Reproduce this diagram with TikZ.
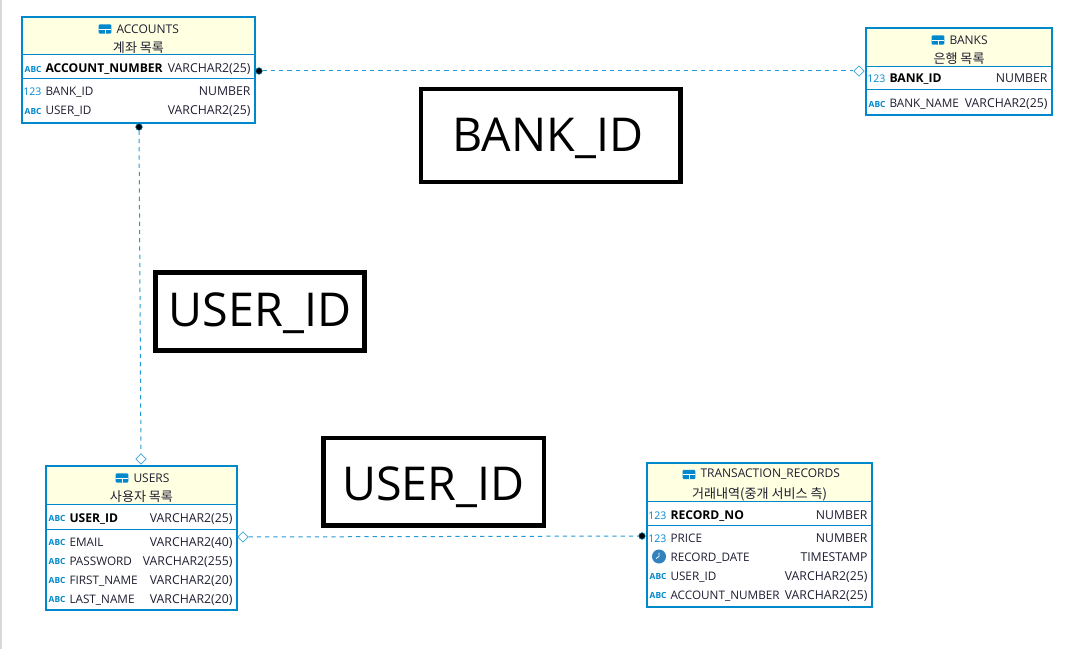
\documentclass[tikz,border=0pt]{standalone}
\usepackage{fontspec}
\setmainfont{Open Sans}
\newfontfamily\krfont{Noto Sans CJK KR}
\usetikzlibrary{shapes.geometric}
\definecolor{erblue}{RGB}{0,136,204}
\definecolor{erhead}{RGB}{255,255,225}
\definecolor{ertext}{RGB}{30,30,50}
\definecolor{erclock}{RGB}{50,130,190}
\tikzset{
	every picture/.style={line width=0.75pt},
	tablebox/.style={draw=erblue,line width=1.5pt,inner sep=0pt},
	headfill/.style={fill=erhead},
	sepline/.style={draw=erblue,line width=0.75pt},
	tabtitle/.style={text=ertext,font=\fontsize{9}{10}\selectfont,inner sep=0pt},
	tabnote/.style={text=ertext,yshift=-0.75pt,font=\krfont\fontsize{9.8}{11}\selectfont,inner sep=0pt},
	colname/.style={anchor=base west,yshift=-0.75pt,text=ertext,font=\fontsize{8.8}{10}\selectfont,inner sep=0pt},
	keyname/.style={colname,font=\bfseries\fontsize{9.1}{10}\selectfont,text=black},
	coltype/.style={anchor=base east,yshift=-0.75pt,text=ertext,font=\fontsize{9.2}{10}\selectfont,inner sep=0pt},
	abcicon/.style={anchor=base east,yshift=-0.4pt,text=erblue,font=\bfseries\fontsize{6.3}{7}\selectfont,inner sep=0pt},
	numicon/.style={anchor=base east,yshift=-0.75pt,text=erblue,font=\fontsize{7.9}{10}\selectfont,inner sep=0pt},
	clockicon/.style={circle,fill=erclock,minimum size=10.5pt,inner sep=0pt},
	tabicon/.style={fill=erblue,rectangle,rounded corners=0.8pt,minimum width=9.5pt,minimum height=7pt,inner sep=0pt,
		path picture={\draw [white,line width=0.6pt] (path picture bounding box.west) -- (path picture bounding box.east) (path picture bounding box.center) -- (path picture bounding box.south);}},
	reldot/.style={circle,fill=black,draw=erblue,line width=0.4pt,minimum size=5pt,inner sep=0pt},
	reldia/.style={diamond,draw=erblue!75,fill=white,line width=0.5pt,minimum size=8pt,inner sep=0pt},
	relline/.style={draw=erblue!85,dash pattern=on 3.2pt off 3pt,line width=0.75pt},
	bigbox/.style={draw=black,line width=3.4pt,inner sep=0pt,text height=26pt,font=\fontsize{35}{42}\selectfont},
}
\begin{document}
\begin{tikzpicture}[x=0.75pt,y=0.75pt,yscale=-1,xscale=1]
	\useasboundingbox (0,0) rectangle (1091,649);
	%page edge
	\draw [black!15,line width=1pt] (1,0) -- (1,649);

	%Shape: Table ACCOUNTS
	\fill [headfill] (22,17) rectangle (255,55);
	\node (accounts) [tablebox,minimum width=174.75pt,minimum height=79.5pt] at (138.5,70) {};
	\draw [sepline] (22,55) -- (255,55);
	\draw [sepline] (22,79) -- (255,79);
	\node (accountsicon) [tabicon] at (105,29) {};
	\node (accountstitle) [tabtitle,anchor=west] at (116,29) {ACCOUNTS};
	\node (accountsnote) [tabnote] at (138.5,47) {계좌 목록};
	\node (accnoicon) [abcicon] at (42,72) {ABC};
	\node (accnoname) [keyname] at (45,72) {ACCOUNT\_NUMBER};
	\node (accnotype) [coltype] at (251,72) {VARCHAR2(25)};
	\node (acbankicon) [numicon] at (42,95) {123};
	\node (acbankname) [colname] at (45,95) {BANK\_ID};
	\node (acbanktype) [coltype] at (251,95) {NUMBER};
	\node (acusericon) [abcicon] at (42,114) {ABC};
	\node (acusername) [colname] at (45,114) {USER\_ID};
	\node (acusertype) [coltype] at (251,114) {VARCHAR2(25)};

	%Shape: Table BANKS
	\fill [headfill] (866,28) rectangle (1052,67);
	\node (banks) [tablebox,minimum width=139.5pt,minimum height=65.25pt] at (959,71.5) {};
	\draw [sepline] (866,67) -- (1052,67);
	\draw [sepline] (866,90) -- (1052,90);
	\node (banksicon) [tabicon] at (938,40) {};
	\node (bankstitle) [tabtitle,anchor=west] at (949,40) {BANKS};
	\node (banksnote) [tabnote] at (959,58) {은행 목록};
	\node (bkidicon) [numicon] at (886,82) {123};
	\node (bkidname) [keyname] at (889,82) {BANK\_ID};
	\node (bkidtype) [coltype] at (1048,82) {NUMBER};
	\node (bknameicon) [abcicon] at (886,107) {ABC};
	\node (bknamename) [colname] at (889,107) {BANK\_NAME};
	\node (bknametype) [coltype] at (1048,107) {VARCHAR2(25)};

	%Shape: Table USERS
	\fill [headfill] (46,466) rectangle (237,504);
	\node (users) [tablebox,minimum width=143.25pt,minimum height=108pt] at (141.5,538) {};
	\draw [sepline] (46,504) -- (237,504);
	\draw [sepline] (46,529) -- (237,529);
	\node (usersicon) [tabicon] at (122,478) {};
	\node (userstitle) [tabtitle,anchor=west] at (133,478) {USERS};
	\node (usersnote) [tabnote] at (141.5,496) {사용자 목록};
	\node (usidicon) [abcicon] at (66,521) {ABC};
	\node (usidname) [keyname] at (69,521) {USER\_ID};
	\node (usidtype) [coltype] at (233,521) {VARCHAR2(25)};
	\node (usmailicon) [abcicon] at (66,545) {ABC};
	\node (usmailname) [colname] at (69,545) {EMAIL};
	\node (usmailtype) [coltype] at (233,545) {VARCHAR2(40)};
	\node (uspassicon) [abcicon] at (66,564) {ABC};
	\node (uspassname) [colname] at (69,564) {PASSWORD};
	\node (uspasstype) [coltype] at (233,564) {VARCHAR2(255)};
	\node (usfirsticon) [abcicon] at (66,583) {ABC};
	\node (usfirstname) [colname] at (69,583) {FIRST\_NAME};
	\node (usfirsttype) [coltype] at (233,583) {VARCHAR2(20)};
	\node (uslasticon) [abcicon] at (66,602) {ABC};
	\node (uslastname) [colname] at (69,602) {LAST\_NAME};
	\node (uslasttype) [coltype] at (233,602) {VARCHAR2(20)};

	%Shape: Table TRANSACTION_RECORDS
	\fill [headfill] (647,463) rectangle (872,501);
	\node (records) [tablebox,minimum width=168.75pt,minimum height=108pt] at (759.5,535) {};
	\draw [sepline] (647,501) -- (872,501);
	\draw [sepline] (647,525) -- (872,525);
	\node (recordsicon) [tabicon] at (689,474.5) {};
	\node (recordstitle) [tabtitle,anchor=west] at (700,474.5) {TRANSACTION\_RECORDS};
	\node (recordsnote) [tabnote] at (759.5,493) {거래내역(중개 서비스 측)};
	\node (rcnoicon) [numicon] at (667,518) {123};
	\node (rcnoname) [keyname] at (670,518) {RECORD\_NO};
	\node (rcnotype) [coltype] at (868,518) {NUMBER};
	\node (rcpriceicon) [numicon] at (667,541) {123};
	\node (rcpricename) [colname] at (670,541) {PRICE};
	\node (rcpricetype) [coltype] at (868,541) {NUMBER};
	\node (rcdateicon) [clockicon] at (659,556.5) {};
	\node (rcdatename) [colname] at (670,560) {RECORD\_DATE};
	\node (rcdatetype) [coltype] at (868,560) {TIMESTAMP};
	\draw [white,line width=0.6pt] (rcdateicon.center) -- ++(0,-4) (rcdateicon.center) -- ++(-3,2);
	\node (rcusericon) [abcicon] at (667,579) {ABC};
	\node (rcusername) [colname] at (670,579) {USER\_ID};
	\node (rcusertype) [coltype] at (868,579) {VARCHAR2(25)};
	\node (rcaccicon) [abcicon] at (667,598) {ABC};
	\node (rcaccname) [colname] at (670,598) {ACCOUNT\_NUMBER};
	\node (rcacctype) [coltype] at (868,598) {VARCHAR2(25)};

	%Relations
	\node (accountsdot) [reldot] at (259,71) {};
	\node (banksdia) [reldia] at (859,71) {};
	\node (accountsdotb) [reldot] at (139,127) {};
	\node (usersdia) [reldia] at (141,459) {};
	\node (usersdiab) [reldia] at (243,537) {};
	\node (recordsdot) [reldot] at (642,536) {};
	\draw [relline] (accountsdot) -- (banksdia);
	\draw [relline] (accountsdotb) -- (usersdia);
	\draw [relline] (usersdiab) -- (recordsdot);

	% Text Node
	\node (bankbox) [bigbox,text depth=1.5pt,minimum width=194.4pt,minimum height=69.4pt] at (550.8,135.5) {BANK\_ID\kern4.5pt};
	% Text Node
	\node (userbox) [bigbox,text depth=3pt,minimum width=156.7pt,minimum height=58.6pt] at (260,311.3) {USER\_ID};
	% Text Node
	\node (userboxb) [bigbox,text height=27.5pt,text depth=0pt,minimum width=165.4pt,minimum height=65.4pt] at (433.5,481.8) {USER\_ID};
\end{tikzpicture}
\end{document}
